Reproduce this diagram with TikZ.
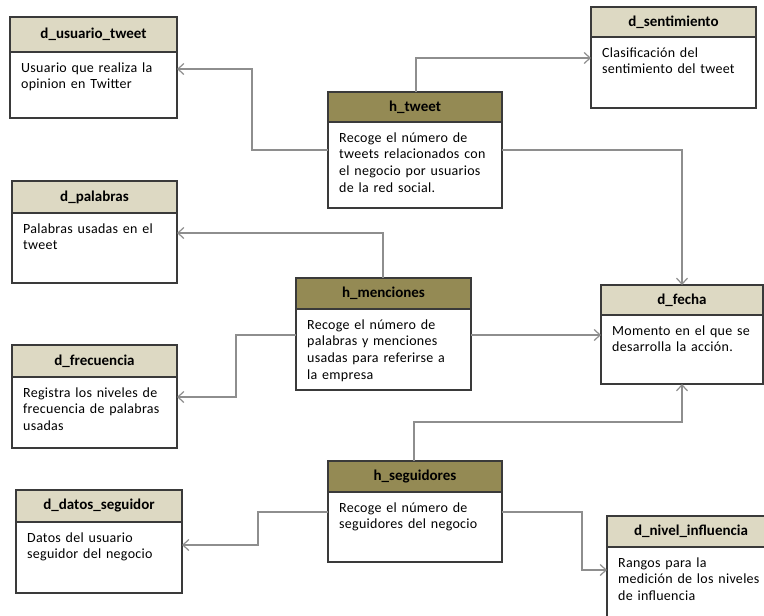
\documentclass[tikz,border=0pt]{standalone}
\usepackage{fontspec}
\setmainfont{Carlito}
\newfontfamily\descfont[LetterSpace=2.0,WordSpace=1.4]{Carlito}
\usetikzlibrary{arrows.meta,calc}

\definecolor{tanhdr}{HTML}{DDD9C3}
\definecolor{olivehdr}{HTML}{948A54}
\definecolor{linkgray}{HTML}{8E8E8E}
\definecolor{framegray}{HTML}{3A3A3A}

\tikzset{
  tablebox/.style={draw=framegray, line width=1.5pt, fill=white, anchor=north west,
    inner sep=0pt, outer sep=0pt},
  dimhead/.style={tablebox, fill=tanhdr, font=\fontsize{15}{18}\selectfont\bfseries},
  facthead/.style={dimhead, fill=olivehdr},
  desc/.style={anchor=base west, inner sep=0pt, font=\descfont\fontsize{14}{16.8}\selectfont},
  link/.style={draw=linkgray, line width=1.2pt, -{Straight Barb[length=6pt,width=11pt]}},
}

% \entity{name}{x1}{y1}{x2}{y2}{header bottom}{header style}{title}{description}
\newcommand\entity[9]{%
  \node[tablebox, minimum width={#4-#2}, minimum height={#5-#3}] (#1) at (#2,#3) {};
  \node[#7, minimum width={#4-#2}, minimum height={#6-#3}] (#1-head) at (#2,#3) {#8};
  \node[desc] (#1-text) at ($(#1-head.south west)+(11,20)$)
    {\parbox[t]{170pt}{\raggedright #9}};
}

\begin{document}
\begin{tikzpicture}[x=1pt, y=-1pt]
  \useasboundingbox (0,0) rectangle (764,616);
  \clip (0,0) rectangle (764,616);

  % dimension tables
  \entity{usuario}{10}{17}{177}{118}{52}{dimhead}{d\_usuario\_tweet}
    {Usuario que realiza la\\opinion en Twitter}
  \entity{sentim}{591}{7}{756}{108}{37}{dimhead}{d\_sentimiento}
    {Clasificación del\\sentimiento del tweet}
  \entity{palabras}{12}{181}{177}{283}{213}{dimhead}{d\_palabras}
    {Palabras usadas en el\\tweet}
  \entity{fecha}{601}{285}{763}{384}{315}{dimhead}{d\_fecha}
    {Momento en el que se\\desarrolla la acción.}
  \entity{frec}{12}{345}{177}{448}{377}{dimhead}{d\_frecuencia}
    {Registra los niveles de\\frecuencia de palabras\\usadas}
  \entity{datos}{16}{490}{182}{593}{522}{dimhead}{d\_datos\_seguidor}
    {Datos del usuario\\seguidor del negocio}
  \entity{nivel}{607}{516}{775}{640}{547}{dimhead}{d\_nivel\_influencia}
    {Rangos para la\\medición de los niveles\\de influencia}

  % fact tables
  \entity{htweet}{328}{92}{502}{208}{122}{facthead}{h\_tweet}
    {Recoge el número de\\tweets relacionados con\\el negocio por usuarios\\de la red social.}
  \entity{menc}{296}{278}{471}{390}{309}{facthead}{h\_menciones}
    {Recoge el número de\\palabras y menciones\\usadas para referirse a\\la empresa}
  \entity{segu}{328}{461}{502}{562}{492}{facthead}{h\_seguidores}
    {Recoge el número de\\seguidores del negocio}

  % relations
  \draw[link] (htweet.west |- 0,150) -| (252,69) -- (usuario.east |- 0,69);
  \draw[link] (htweet.north -| 416,0) |- (sentim.west |- 0,58);
  \draw[link] (htweet.east |- 0,150) -| (fecha.north);
  \draw[link] (menc.north -| 383,0) |- (palabras.east |- 0,233);
  \draw[link] (menc.west |- 0,335) -| (236,397) -- (frec.east |- 0,397);
  \draw[link] (menc.east |- 0,335) -- (fecha.west |- 0,335);
  \draw[link] (segu.north -| 414,0) |- (682,422) -- (fecha.south);
  \draw[link] (segu.west |- 0,512) -| (258,545) -- (datos.east |- 0,545);
  \draw[link] (segu.east |- 0,512) -| (582,570) -- (nivel.west |- 0,570);
\end{tikzpicture}
\end{document}
